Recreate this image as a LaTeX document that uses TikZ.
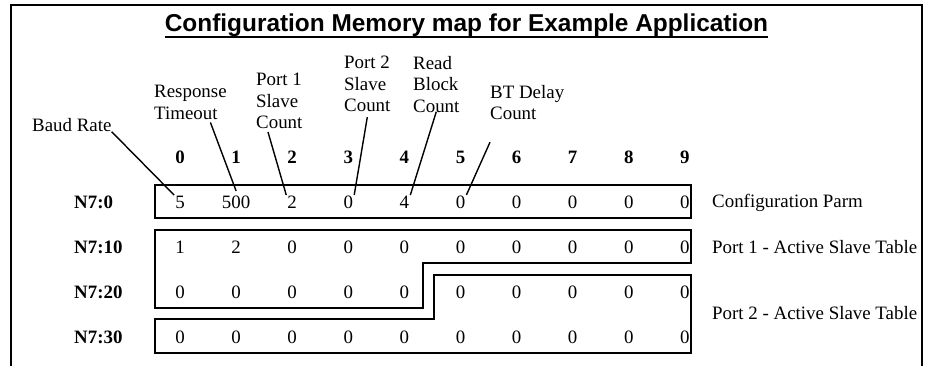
\documentclass[tikz,border=0pt]{standalone}
\usepackage{fontspec}
\setmainfont{Liberation Serif}
\newfontfamily\arialfont{Liberation Sans}
\usepackage{tikz}

\begin{document}
\begin{tikzpicture}[x=1pt, y=-1pt,
    txt/.style={font=\fontsize{18.9}{21.5}\selectfont, inner sep=1pt},
    lbl/.style={txt, align=left, anchor=north west, inner sep=0pt},
    val/.style={txt},
    hdr/.style={txt, font=\fontsize{18.9}{21.5}\selectfont\bfseries},
    rowlbl/.style={hdr, anchor=west},
    side/.style={txt, anchor=west},
    box/.style={line width=2pt},
    ptr/.style={line width=1.4pt}]
 \useasboundingbox (0,0) rectangle (925,366);
 \draw[line width=2pt] (11,366) -- (11,5.5) -- (921.5,5.5) -- (921.5,366);

  % title
  \node[inner sep=0pt, anchor=base, font=\arialfont\bfseries\fontsize{24.4}{28}\selectfont] (title) at (466.5,32) {Configuration Memory map for Example Application};
  \draw[line width=2pt] ([yshift=-5pt]title.base west) -- ([yshift=-5pt]title.base east);

  % field labels
  \node[lbl] (baud) at (32,118) {Baud Rate};
  \node[lbl] (resp) at (154,85) {Response\\Timeout};
  \node[lbl] (p1cnt) at (256,73) {Port 1\\Slave\\Count};
  \node[lbl] (p2cnt) at (344,56) {Port 2\\Slave\\Count};
  \node[lbl] (rdcnt) at (413,56) {Read\\Block\\Count};
  \node[lbl] (btcnt) at (490,85) {BT Delay\\Count};

  % column numbers
  \foreach \i in {0,...,9}
    \node[hdr] (h\i) at ({180+56.1*\i},157.5) {\i};

  % outlines
  \draw[box] (155,185) rectangle (690.7,218.3);
  \draw[box] (155,230) -- (690.7,230) -- (690.7,262.7) -- (423.3,262.7) -- (423.3,307.7) -- (155,307.7) -- cycle;
  \draw[box] (434.3,275) -- (690.7,275) -- (690.7,353.3) -- (155,353.3) -- (155,319.3) -- (434.3,319.3) -- cycle;

  % rows
  \node[rowlbl] (r0) at (73,202.5) {N7:0};
  \node[rowlbl] (r10) at (73,247.5) {N7:10};
  \node[rowlbl] (r20) at (73,292.5) {N7:20};
  \node[rowlbl] (r30) at (73,337.5) {N7:30};
  \foreach \v [count=\i from 0] in {5,500,2,0,4,0,0,0,0,0}
    \node[val] (a\i) at ({180+56.1*\i},202.5) {\v};
  \foreach \v [count=\i from 0] in {1,2,0,0,0,0,0,0,0,0}
    \node[val] (b\i) at ({180+56.1*\i},247.5) {\v};
  \foreach \i in {0,...,9}
    \node[val] (c\i) at ({180+56.1*\i},292.5) {0};
  \foreach \i in {0,...,9}
    \node[val] (d\i) at ({180+56.1*\i},337.5) {0};

  \node[side] (cfg) at (711,202.5) {Configuration Parm};
  \node[side] (port1) at (711,247.5) {Port 1 - Active Slave Table};
  \node[side] (port2) at (711,313.5) {Port 2 - Active Slave Table};

  % pointers
  \draw[ptr] (baud.south east) -- (a0.north west);
  \draw[ptr] ([xshift=20pt,yshift=-3pt]resp.south) -- ([yshift=4pt]a1.north);
  \draw[ptr] ([xshift=12pt,yshift=-3pt]p1cnt.south west) -- (a2.north west);
  \draw[ptr] ([yshift=-5pt]p2cnt.south) -- (a3.north east);
  \draw[ptr] ([yshift=1pt]rdcnt.south) -- (a4.north east);
  \draw[ptr] ([yshift=-22pt]btcnt.south west) -- (a5.north east);

\end{tikzpicture}
\end{document}
